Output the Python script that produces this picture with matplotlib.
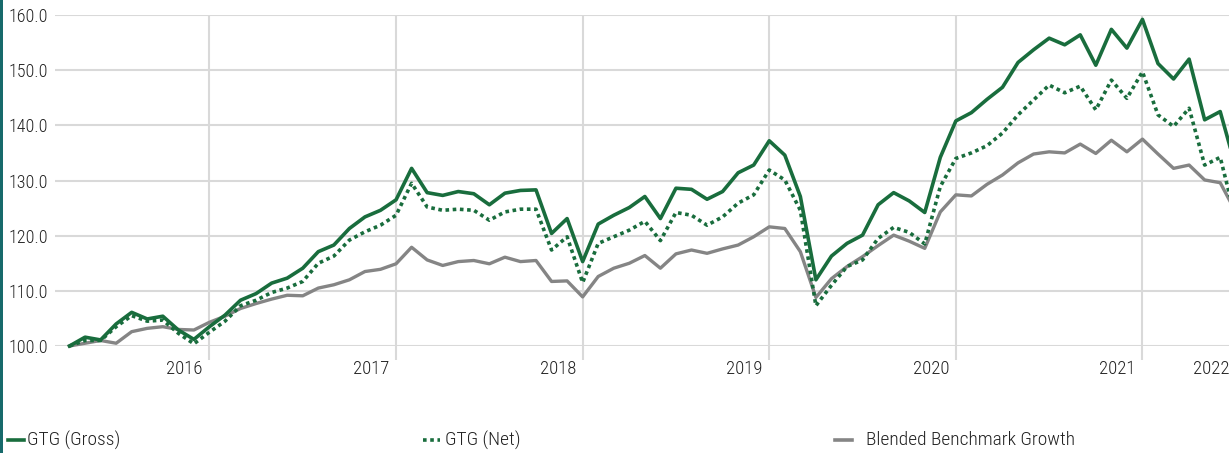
import numpy as np
import matplotlib
matplotlib.use("Agg")
import matplotlib.pyplot as plt
from matplotlib import font_manager
from matplotlib.lines import Line2D
from matplotlib.patches import Rectangle

# monthly growth of 100, starting spring 2015
gross = [100.0, 101.6, 101.1, 104.0, 106.1, 104.9, 105.4, 102.9, 101.2, 103.5,
         105.6, 108.3, 109.5, 111.4, 112.3, 114.1, 117.1, 118.3, 121.3, 123.4,
         124.6, 126.5, 132.2, 127.8, 127.3, 128.0, 127.6, 125.6, 127.7, 128.2,
         128.3, 120.4, 123.1, 115.3, 122.1, 123.7, 125.1, 127.1, 123.1, 128.6,
         128.4, 126.6, 128.0, 131.4, 132.8, 137.2, 134.6, 127.1, 112.0, 116.3,
         118.6, 120.1, 125.6, 127.8, 126.3, 124.2, 134.2, 140.8, 142.3, 144.7,
         146.9, 151.4, 153.7, 155.8, 154.6, 156.4, 150.9, 157.4, 154.0, 159.2,
         151.2, 148.4, 152.0, 141.0, 142.5, 132.4]
net = [100.0, 101.0, 101.0, 103.5, 105.5, 104.5, 104.7, 102.3, 100.4, 102.5,
       104.5, 107.3, 108.3, 109.7, 110.5, 111.7, 115.0, 116.3, 119.2, 120.7,
       121.9, 123.7, 129.5, 125.2, 124.6, 124.8, 124.6, 122.8, 124.3, 124.8,
       124.8, 117.4, 119.8, 111.5, 118.6, 119.8, 121.0, 122.6, 119.1, 124.2,
       123.7, 121.9, 123.4, 125.9, 127.4, 131.9, 130.1, 124.6, 107.3, 111.0,
       114.4, 115.6, 119.5, 121.5, 120.6, 118.5, 128.9, 134.0, 135.0, 136.3,
       138.6, 141.9, 144.6, 147.3, 145.9, 147.1, 142.8, 148.2, 144.9, 149.7,
       141.9, 139.8, 143.1, 132.8, 134.2, 123.0]
bench = [100.0, 100.5, 101.0, 100.5, 102.6, 103.2, 103.5, 103.0, 102.9, 104.3,
         105.4, 106.8, 107.7, 108.5, 109.2, 109.1, 110.5, 111.1, 112.0, 113.5,
         113.9, 114.9, 117.9, 115.6, 114.6, 115.3, 115.5, 114.9, 116.1, 115.3,
         115.5, 111.7, 111.8, 108.9, 112.6, 114.1, 115.0, 116.4, 114.1, 116.7,
         117.4, 116.8, 117.6, 118.3, 119.8, 121.6, 121.3, 117.1, 108.8, 112.2,
         114.4, 116.2, 118.2, 120.1, 119.0, 117.7, 124.3, 127.4, 127.2, 129.3,
         131.0, 133.2, 134.8, 135.2, 135.0, 136.6, 134.9, 137.3, 135.2, 137.5,
         134.8, 132.2, 132.8, 130.1, 129.6, 124.3]

years = ["2016", "2017", "2018", "2019", "2020", "2021", "2022"]
year_start = [9, 21, 33, 45, 57, 69, 81]   # month index of each year boundary
yticks = [100, 110, 120, 130, 140, 150, 160]
labels = ["GTG (Gross)", "GTG (Net)", "Blended Benchmark Growth"]

GREEN = "#196d3d"
GRAY = "#858585"
GRID = "#d9d9d9"
TEXT = "#222222"
TEAL = "#176a6b"

# the original uses a condensed face; take the narrowest one that is around
names = {f.name for f in font_manager.fontManager.ttflist}
family = "Liberation Sans"
for cand in ["Roboto Condensed", "Liberation Sans Narrow", "Open Sans Condensed"]:
    if cand in names:
        family = cand
        break
plt.rcParams["font.family"] = [family, "DejaVu Sans"]
plt.rcParams["font.weight"] = "light"

W, H = 1229, 453
fig = plt.figure(figsize=(W / 100, H / 100), dpi=100)
ax = fig.add_axes([55 / W, (H - 346) / H, (W - 55) / W, 331 / H])

x = np.arange(len(gross))
ax.plot(x, bench, color=GRAY, lw=2.4, clip_on=False, zorder=3)
ax.plot(x, net, color=GREEN, lw=2.6, ls=(0, (1, 1)), dash_capstyle="butt",
        clip_on=False, zorder=4)
ax.plot(x, gross, color=GREEN, lw=2.6, clip_on=False, zorder=5)

x0, dx = 69.5, 15.55   # pixel of first point, pixels per month
ax.set_xlim((55 - x0) / dx, (W - x0) / dx)
ax.set_ylim(100, 160)

for s in ax.spines.values():
    s.set_visible(False)

ax.set_yticks(yticks)
ax.set_yticklabels([f"{v:.1f}" for v in yticks], fontsize=13, color=TEXT)
ax.tick_params(axis="y", length=0, pad=5)
ax.set_xticks(year_start[:-1])
ax.set_xticklabels([])
ax.tick_params(axis="x", length=10, width=1.5, color=GRID)
ax.grid(True, color=GRID, lw=1.5)
ax.set_axisbelow(True)

xmax = ax.get_xlim()[1]
tr = ax.get_xaxis_transform()
for yr, idx in zip(years, year_start):
    if idx < xmax:
        ax.text(idx - 1.6, -0.07, yr, transform=tr, ha="center", va="center",
                fontsize=13.5, color=TEXT)
    else:
        ax.text(1.0, -0.07, yr, transform=ax.transAxes, ha="right", va="center",
                fontsize=13.5, color=TEXT)

# legend drawn by hand along the bottom
def fx(px):
    return px / W

ly = (H - 440) / H
handles = [(8, 24, dict(color=GREEN, lw=2.6)),
           (423, 440, dict(color=GREEN, lw=2.6, ls=(0, (1, 1)), dash_capstyle="butt")),
           (835, 852, dict(color=GRAY, lw=2.6))]
text_x = [27, 445, 866]
for (a, b, kw), tx, lab in zip(handles, text_x, labels):
    fig.add_artist(Line2D([fx(a), fx(b)], [ly, ly], transform=fig.transFigure, **kw))
    fig.text(fx(tx), ly, lab, ha="left", va="center", fontsize=14, color=TEXT)

fig.add_artist(Rectangle((0, 0), 3 / W, 1, transform=fig.transFigure,
                         color=TEAL, lw=0))

fig.savefig("out.png", dpi=100)
